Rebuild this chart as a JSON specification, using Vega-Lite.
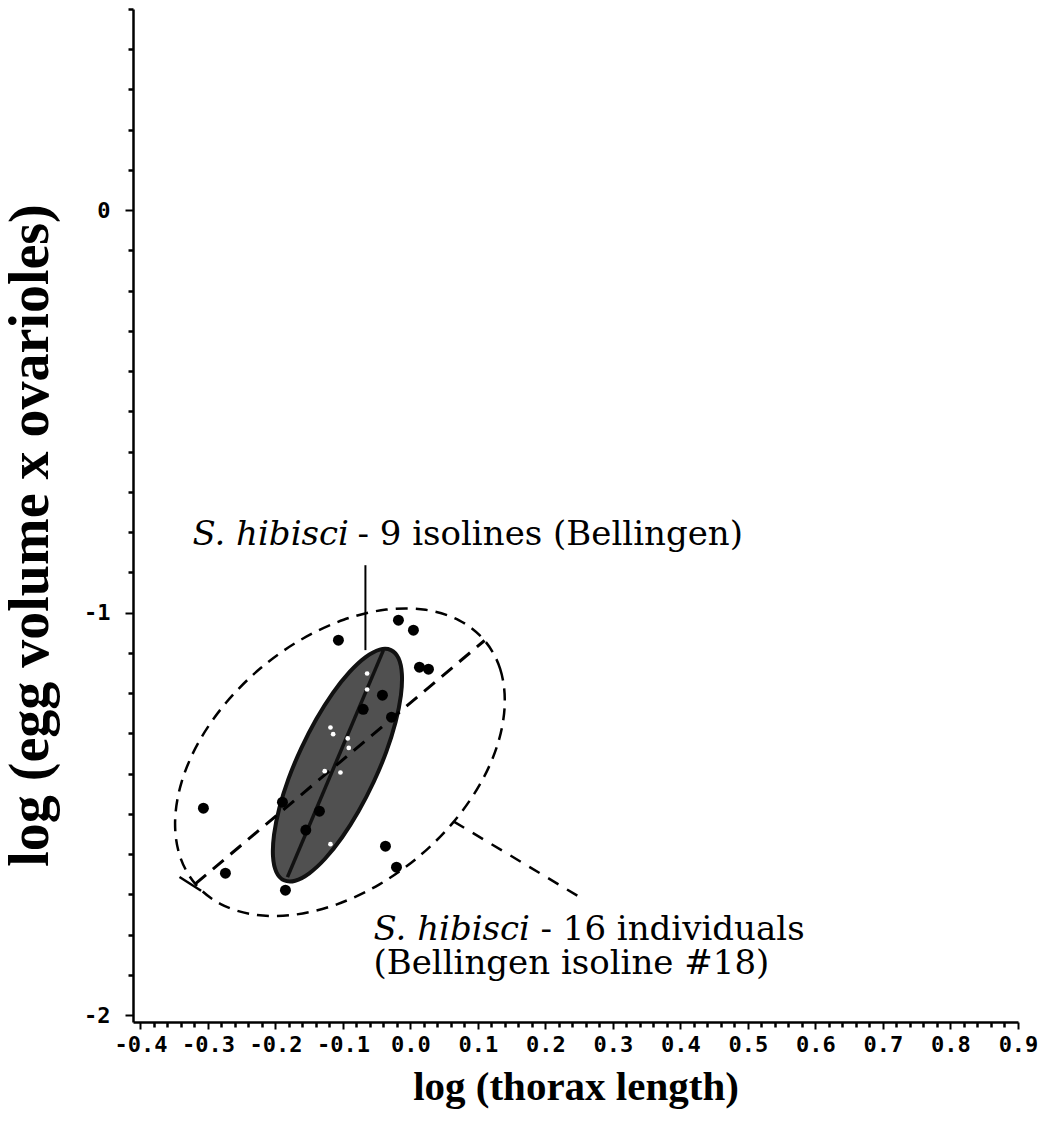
{
"$schema": "https://vega.github.io/schema/vega-lite/v6.json",
"width": 885,
"height": 1013,
"autosize": {"type": "none"},
"padding": {"left": 133, "top": 9, "right": 29, "bottom": 113},
"background": "white",
"config": {"view": {"stroke": null}},
"datasets": {
"individuals": [
{"x": -0.1067, "y": -1.0683}, {"x": -0.0178, "y": -1.0186}, {"x": 0.0044, "y": -1.0435},
{"x": 0.0133, "y": -1.1354}, {"x": 0.0267, "y": -1.1404}, {"x": -0.0415, "y": -1.2050},
{"x": -0.0281, "y": -1.2596}, {"x": -0.3067, "y": -1.4857}, {"x": -0.1896, "y": -1.4708},
{"x": -0.1348, "y": -1.4932}, {"x": -0.2741, "y": -1.6472}, {"x": -0.1852, "y": -1.6894},
{"x": -0.0370, "y": -1.5801}, {"x": -0.0207, "y": -1.6323}, {"x": -0.1550, "y": -1.5400},
{"x": -0.0700, "y": -1.2400}
],
"isolines": [
{"x": -0.0642, "y": -1.1511}, {"x": -0.0642, "y": -1.1908}, {"x": -0.1185, "y": -1.2852},
{"x": -0.1145, "y": -1.3019}, {"x": -0.0929, "y": -1.3125}, {"x": -0.0914, "y": -1.3359},
{"x": -0.1270, "y": -1.3938}, {"x": -0.1037, "y": -1.3970}, {"x": -0.1185, "y": -1.5752}
],
"inner": [
{"i": 0, "x": -0.0289, "y": -1.0929}, {"i": 1, "x": -0.0176, "y": -1.1135}, {"i": 2, "x": -0.0127, "y": -1.1520},
{"i": 3, "x": -0.0142, "y": -1.2062}, {"i": 4, "x": -0.0221, "y": -1.2723}, {"i": 5, "x": -0.0357, "y": -1.3453},
{"i": 6, "x": -0.0545, "y": -1.4206}, {"i": 7, "x": -0.0769, "y": -1.4934}, {"i": 8, "x": -0.1012, "y": -1.5580},
{"i": 9, "x": -0.1262, "y": -1.6107}, {"i": 10, "x": -0.1499, "y": -1.6475}, {"i": 11, "x": -0.1708, "y": -1.6661},
{"i": 12, "x": -0.1874, "y": -1.6649}, {"i": 13, "x": -0.1987, "y": -1.6442}, {"i": 14, "x": -0.2036, "y": -1.6057},
{"i": 15, "x": -0.2021, "y": -1.5516}, {"i": 16, "x": -0.1942, "y": -1.4855}, {"i": 17, "x": -0.1806, "y": -1.4124},
{"i": 18, "x": -0.1618, "y": -1.3371}, {"i": 19, "x": -0.1394, "y": -1.2643}, {"i": 20, "x": -0.1151, "y": -1.1998},
{"i": 21, "x": -0.0901, "y": -1.1471}, {"i": 22, "x": -0.0664, "y": -1.1103}, {"i": 23, "x": -0.0455, "y": -1.0917}
],
"outer": [
{"i": 0, "x": 0.1098, "y": -1.0691}, {"i": 1, "x": 0.1329, "y": -1.1396}, {"i": 2, "x": 0.1397, "y": -1.2263},
{"i": 3, "x": 0.1299, "y": -1.3232}, {"i": 4, "x": 0.1043, "y": -1.4226}, {"i": 5, "x": 0.0643, "y": -1.5190},
{"i": 6, "x": 0.0129, "y": -1.6052}, {"i": 7, "x": -0.0465, "y": -1.6755}, {"i": 8, "x": -0.1099, "y": -1.7252},
{"i": 9, "x": -0.1729, "y": -1.7506}, {"i": 10, "x": -0.2313, "y": -1.7501}, {"i": 11, "x": -0.2810, "y": -1.7240},
{"i": 12, "x": -0.3187, "y": -1.6738}, {"i": 13, "x": -0.3418, "y": -1.6032}, {"i": 14, "x": -0.3486, "y": -1.5165},
{"i": 15, "x": -0.3388, "y": -1.4196}, {"i": 16, "x": -0.3132, "y": -1.3202}, {"i": 17, "x": -0.2732, "y": -1.2238},
{"i": 18, "x": -0.2218, "y": -1.1376}, {"i": 19, "x": -0.1624, "y": -1.0673}, {"i": 20, "x": -0.0990, "y": -1.0176},
{"i": 21, "x": -0.0360, "y": -0.9923}, {"i": 22, "x": 0.0224, "y": -0.9928}, {"i": 23, "x": 0.0721, "y": -1.0189}
],
"inner_axis": [{"x": -0.1822, "y": -1.6571}, {"x": -0.0400, "y": -1.0931}],
"outer_axis": [{"x": -0.3187, "y": -1.6738}, {"x": 0.1098, "y": -1.0691}],
"end_tick": [{"x": -0.3421, "y": -1.6566}, {"x": -0.3101, "y": -1.6909}],
"leader_top": [{"x": -0.0667, "y": -0.882}, {"x": -0.0667, "y": -1.093}],
"leader_bottom": [{"x": 0.0643, "y": -1.519}, {"x": 0.2533, "y": -1.7093}],
"one": [{"n": 1}]
},
"resolve": {"axis": {"x": "independent", "y": "independent"}},
"layer": [
{
"encoding": {
"x": {"field": "x", "type": "quantitative",
 "scale": {"domain": [-0.411, 0.9], "nice": false, "zero": false},
 "axis": {
  "title": "log (thorax length)",
  "values": [-0.4,-0.3,-0.2,-0.1,0,0.1,0.2,0.3,0.4,0.5,0.6,0.7,0.8,0.9],
  "labelExpr": "(datum.value < -0.001 ? '-' : '') + format(abs(datum.value), '.1f')",
  "tickSize": 7, "tickWidth": 2, "tickColor": "black", "domainColor": "black", "domainWidth": 2.5, "grid": false,
  "labelOverlap": false, "labelFlush": false,
  "labelFont": "DejaVu Sans Mono", "labelFontWeight": "bold", "labelFontSize": 22, "labelColor": "black", "labelPadding": 5,
  "titleFont": "Liberation Serif", "titleFontWeight": "bold", "titleFontSize": 41, "titleColor": "black", "titlePadding": 12
 }},
"y": {"field": "y", "type": "quantitative",
 "scale": {"domain": [-2.017, 0.5], "nice": false, "zero": false},
 "axis": {
  "title": "log (egg volume x ovarioles)",
  "values": [-2, -1, 0],
  "labelExpr": "datum.value == 0 ? '0' : '-' + format(abs(datum.value), 'd')",
  "tickSize": 8, "tickWidth": 2, "tickColor": "black", "domainColor": "black", "domainWidth": 2.5, "grid": false,
  "labelOverlap": false, "labelFlush": false,
  "labelFont": "DejaVu Sans Mono", "labelFontWeight": "bold", "labelFontSize": 22, "labelColor": "black", "labelPadding": 15,
  "titleFont": "Liberation Serif", "titleFontWeight": "bold", "titleFontSize": 56, "titleColor": "black",
  "titleBaseline": "alphabetic", "titleX": -86, "titleY": 526
 }}
},
"layer": [
{"data": {"name": "inner"}, "mark": {"type": "line", "interpolate": "cardinal-closed", "fill": "#505050", "stroke": "#111111", "strokeWidth": 4}, "encoding": {"order": {"field": "i", "type": "quantitative"}}},
{"data": {"name": "inner_axis"}, "mark": {"type": "line", "color": "#111111", "strokeWidth": 3.5}, "encoding": {}},
{"data": {"name": "outer"}, "mark": {"type": "line", "interpolate": "cardinal-closed", "color": "black", "strokeWidth": 2.5, "strokeDash": [12, 8]}, "encoding": {"order": {"field": "i", "type": "quantitative"}}},
{"data": {"name": "outer_axis"}, "mark": {"type": "line", "color": "black", "strokeWidth": 3, "strokeDash": [14, 9]}, "encoding": {}},
{"data": {"name": "end_tick"}, "mark": {"type": "line", "color": "black", "strokeWidth": 2.5}, "encoding": {}},
{"data": {"name": "leader_top"}, "mark": {"type": "line", "color": "black", "strokeWidth": 2}, "encoding": {}},
{"data": {"name": "leader_bottom"}, "mark": {"type": "line", "color": "black", "strokeWidth": 2.5, "strokeDash": [12, 10]}, "encoding": {}},
{"data": {"name": "individuals"}, "mark": {"type": "point", "filled": true, "color": "black", "size": 120, "opacity": 1}}
]
},
{"data": {"name": "isolines"}, "mark": {"type": "point", "filled": true, "color": "white", "size": 22, "opacity": 1},
 "encoding": {
  "x": {"field": "x", "type": "quantitative", "scale": {"domain": [-0.411, 0.9], "nice": false, "zero": false},
   "axis": {"orient": "bottom", "title": null, "values": [-0.38,-0.36,-0.34,-0.32,-0.28,-0.26,-0.24,-0.22,-0.18,-0.16,-0.14,-0.12,-0.08,-0.06,-0.04,-0.02,0.02,0.04,0.06,0.08,0.12,0.14,0.16,0.18,0.22,0.24,0.26,0.28,0.32,0.34,0.36,0.38,0.42,0.44,0.46,0.48,0.52,0.54,0.56,0.58,0.62,0.64,0.66,0.68,0.72,0.74,0.76,0.78,0.82,0.84,0.86,0.88],
    "labels": false, "domain": false, "grid": false, "tickSize": 5, "tickWidth": 2.5, "tickColor": "black"}},
  "y": {"field": "y", "type": "quantitative", "scale": {"domain": [-2.017, 0.5], "nice": false, "zero": false},
   "axis": {"orient": "left", "title": null, "values": [-1.9,-1.8,-1.7,-1.6,-1.5,-1.4,-1.3,-1.2,-1.1,-0.9,-0.8,-0.7,-0.6,-0.5,-0.4,-0.3,-0.2,-0.1,0.1,0.2,0.3,0.4,0.5],
    "labels": false, "domain": false, "grid": false, "tickSize": 5, "tickWidth": 2.5, "tickColor": "black"}}
 }},
{"data": {"name": "one"}, "mark": {"type": "text", "font": "DejaVu Serif", "fontStyle": "italic", "fontSize": 34, "align": "left", "baseline": "alphabetic", "fill": "black"},
 "encoding": {"text": {"value": "S. hibisci"}, "x": {"datum": -0.323, "type": "quantitative", "axis": null}, "y": {"datum": -0.832, "type": "quantitative", "axis": null}}},
{"data": {"name": "one"}, "mark": {"type": "text", "font": "DejaVu Serif", "fontSize": 34, "align": "left", "baseline": "alphabetic", "fill": "black"},
 "encoding": {"text": {"value": "- 9 isolines (Bellingen)"}, "x": {"datum": -0.0785, "type": "quantitative", "axis": null}, "y": {"datum": -0.832, "type": "quantitative", "axis": null}}},
{"data": {"name": "one"}, "mark": {"type": "text", "font": "DejaVu Serif", "fontStyle": "italic", "fontSize": 34, "align": "left", "baseline": "alphabetic", "fill": "black"},
 "encoding": {"text": {"value": "S. hibisci"}, "x": {"datum": -0.0548, "type": "quantitative", "axis": null}, "y": {"datum": -1.8137, "type": "quantitative", "axis": null}}},
{"data": {"name": "one"}, "mark": {"type": "text", "font": "DejaVu Serif", "fontSize": 34, "align": "left", "baseline": "alphabetic", "fill": "black"},
 "encoding": {"text": {"value": "- 16 individuals"}, "x": {"datum": 0.1926, "type": "quantitative", "axis": null}, "y": {"datum": -1.8137, "type": "quantitative", "axis": null}}},
{"data": {"name": "one"}, "mark": {"type": "text", "font": "DejaVu Serif", "fontSize": 34, "align": "left", "baseline": "alphabetic", "fill": "black"},
 "encoding": {"text": {"value": "(Bellingen isoline #18)"}, "x": {"datum": -0.0548, "type": "quantitative", "axis": null}, "y": {"datum": -1.897, "type": "quantitative", "axis": null}}}
]
}
